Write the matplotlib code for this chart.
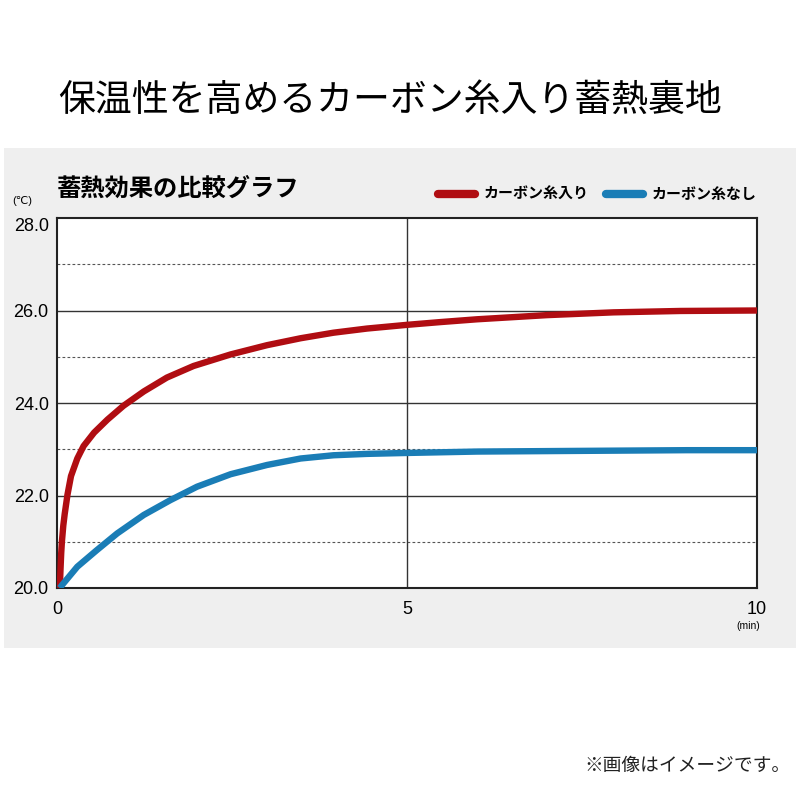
import matplotlib as mpl

mpl.use("Agg")
import matplotlib.pyplot as plt
from matplotlib.patches import Rectangle

plt.rcParams["font.family"] = ["Noto Sans CJK JP", "DejaVu Sans"]

# values (minutes, deg C)
carbon_t = [0.04, 0.05, 0.06, 0.07, 0.09, 0.11, 0.15, 0.20, 0.29, 0.38, 0.53, 0.72, 0.95, 1.24, 1.57,
            1.95, 2.48, 3.0, 3.48, 3.95, 4.43, 5.0, 5.48, 6.0, 7.0, 7.95, 8.91, 10.0]
carbon_temp = [20.0, 20.4, 20.75, 21.0, 21.35, 21.6, 22.02, 22.42, 22.8, 23.07, 23.36, 23.64, 23.94,
               24.25, 24.55, 24.8, 25.05, 25.25, 25.4, 25.52, 25.61, 25.69, 25.75, 25.81, 25.9,
               25.96, 25.99, 26.0]
plain_t = [0.04, 0.07, 0.29, 0.57, 0.86, 1.24, 1.62, 2.0, 2.48, 3.0, 3.48, 3.95, 4.43, 5.0, 6.0,
           7.0, 8.0, 9.0, 10.0]
plain_temp = [20.0, 20.06, 20.46, 20.82, 21.18, 21.58, 21.9, 22.19, 22.46, 22.66, 22.8, 22.87, 22.9,
              22.92, 22.95, 22.96, 22.97, 22.98, 22.98]

y_ticks = [20, 22, 24, 26, 28]
y_minor = [21, 23, 25, 27]
x_ticks = [0, 5, 10]

RED = "#b00d12"
BLUE = "#1a7db6"
PANEL = "#efefef"

fig = plt.figure(figsize=(8, 8), dpi=100)
fig.patch.set_facecolor("white")
fig.patches.append(Rectangle((0.005, 0.19), 0.99, 0.625, transform=fig.transFigure,
                             facecolor=PANEL, edgecolor="none", zorder=-5))

fig.text(0.073, 0.874, "保温性を高めるカーボン糸入り蓄熱裏地", fontsize=26.6, va="center", ha="left")
fig.text(0.071, 0.764, "蓄熱効果の比較グラフ", fontsize=17.5, fontweight="bold", va="center", ha="left")

ax = fig.add_axes([0.07125, 0.265, 0.875, 0.4625])
ax.set_zorder(2)
ax.set_facecolor("white")
for y in y_ticks[1:-1]:
    ax.axhline(y, color="#333333", lw=1.0, zorder=1)
for y in y_minor:
    ax.axhline(y, color="#555555", lw=0.8, ls=(0, (2.5, 2)), zorder=1)
ax.axvline(5, color="#333333", lw=1.0, zorder=1)

ax.plot(carbon_t, carbon_temp, color=RED, lw=4.6, solid_capstyle="butt", solid_joinstyle="round",
        zorder=3, label="カーボン糸入り")
ax.plot(plain_t, plain_temp, color=BLUE, lw=4.6, solid_capstyle="butt", solid_joinstyle="round",
        zorder=3, label="カーボン糸なし")

ax.set_xlim(0, 10)
ax.set_ylim(20, 28)
ax.set_yticks(y_ticks)
ax.set_yticklabels([f"{v:.1f}" for v in y_ticks], family="Liberation Sans", fontsize=13)
ax.set_xticks(x_ticks)
ax.set_xticklabels([str(v) for v in x_ticks], family="Liberation Sans", fontsize=13)
ax.tick_params(length=0, pad=6)
ax.tick_params(axis="x", pad=9)
ax.get_yticklabels()[-1].set_va("top")
for s in ax.spines.values():
    s.set_color("#222222")
    s.set_linewidth(1.5)

fig.text(0.015, 0.749, "(℃)", fontsize=8, va="center", ha="left", family=["Liberation Sans", "DejaVu Sans"])
fig.text(0.935, 0.217, "(min)", fontsize=7.5, va="center", ha="center", family="Liberation Sans")

leg = ax.legend(loc="center right", bbox_to_anchor=(1.0, 1.065), ncol=2, frameon=False,
                borderaxespad=0, borderpad=0,
                handlelength=2.5, handletextpad=0.6, columnspacing=1.1,
                prop={"size": 10.8, "weight": "bold", "family": ["Noto Sans CJK JP", "DejaVu Sans"]})
for line in leg.get_lines():
    line.set_linewidth(6)
    line.set_solid_capstyle("round")

fig.text(0.73, 0.043, "※画像はイメージです。", fontsize=13.5, va="center", ha="left", color="#222222")

fig.savefig("out.png", dpi=100, facecolor="white")
plt.close(fig)
